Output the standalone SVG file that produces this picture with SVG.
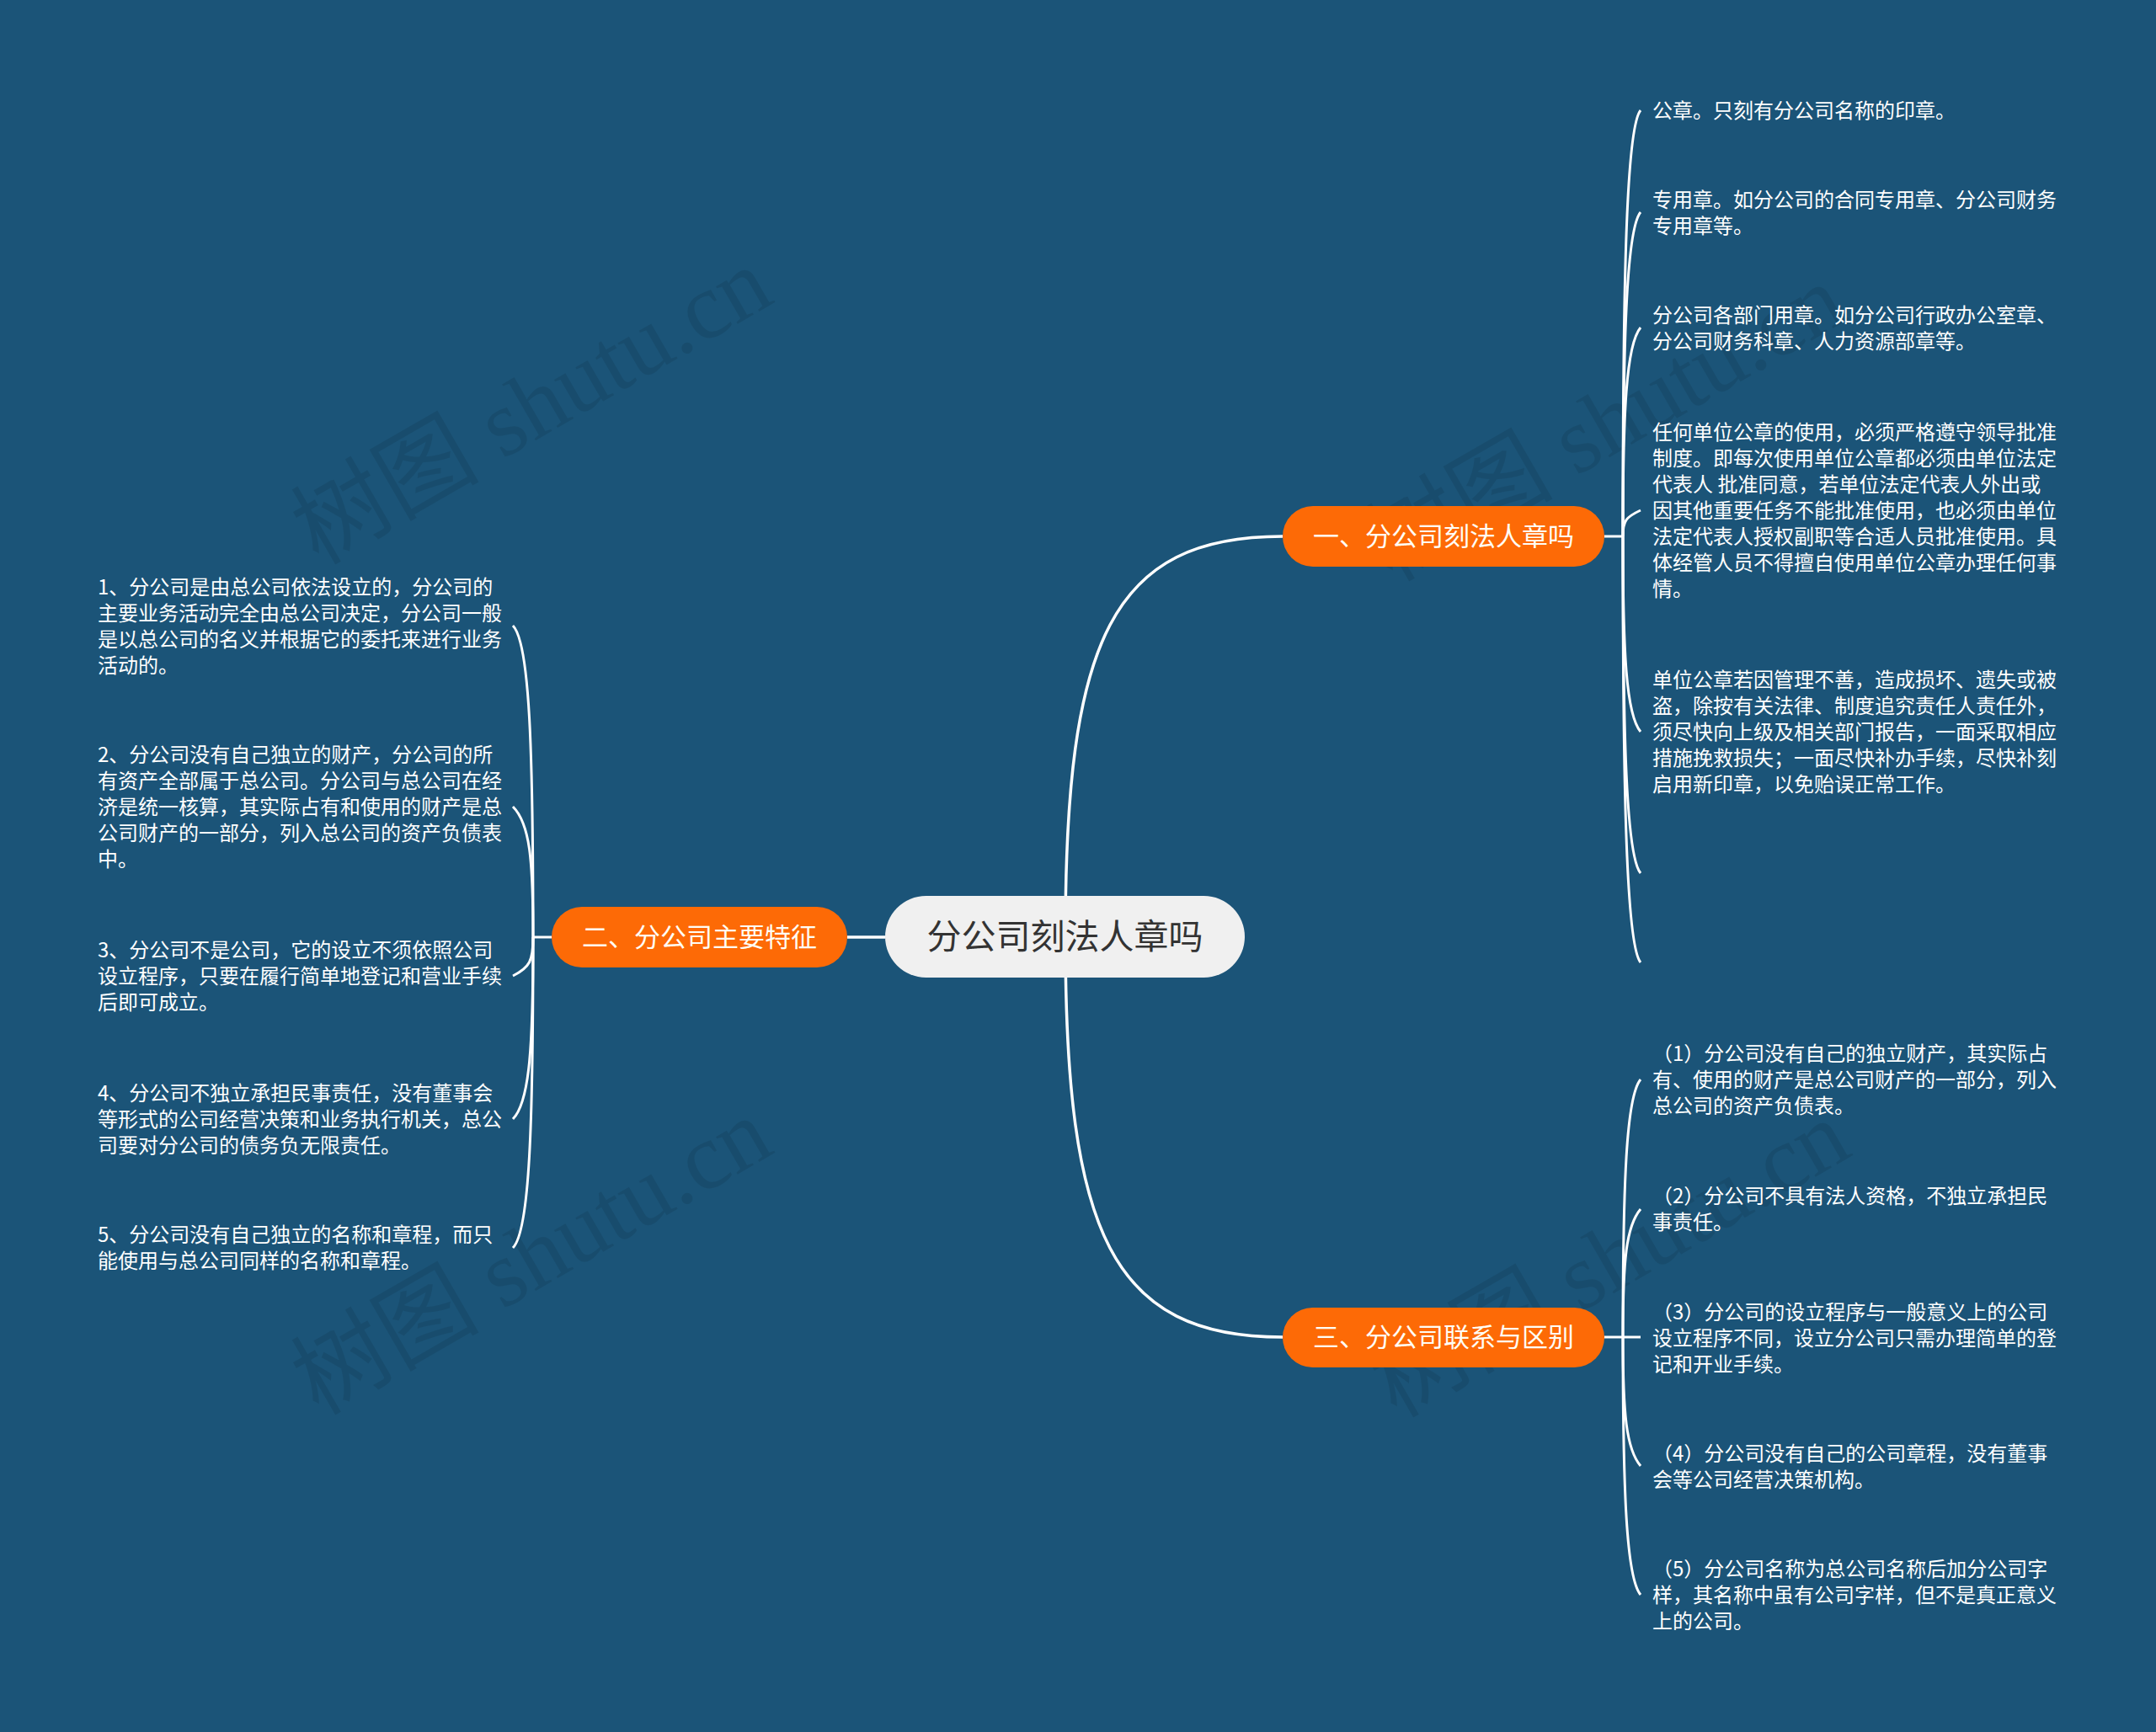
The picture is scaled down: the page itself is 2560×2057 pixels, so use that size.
<svg xmlns="http://www.w3.org/2000/svg" width="2560" height="2057" viewBox="0 0 2560 2057">
<style>
.bg{fill:#1b5478}
.wm{font-family:"Liberation Serif","Noto Sans CJK SC",serif;font-size:112px;fill:#000;fill-opacity:0.09}
.root-box{fill:#f0f0f0}
.root-txt{font-family:"Noto Sans CJK SC",sans-serif;font-size:41px;fill:#333333;text-anchor:middle}
.br-box{fill:#fd6a06}
.br-txt{font-family:"Noto Sans CJK SC",sans-serif;font-size:31px;fill:#fffdf5;text-anchor:middle}
.leaf{font-family:"Noto Sans CJK SC",sans-serif;font-size:24px;fill:#ffffff}
.main{fill:none;stroke:#ffffff;stroke-width:3.5}
.sub{fill:none;stroke:#ffffff;stroke-width:3}
</style>
<rect class="bg" x="0" y="0" width="2560" height="2057"/>
<g id="watermarks">
<text class="wm" transform="translate(650 515) rotate(-30)" text-anchor="middle">树图 shutu.cn</text>
<text class="wm" transform="translate(1925 535) rotate(-30)" text-anchor="middle">树图 shutu.cn</text>
<text class="wm" transform="translate(650 1525) rotate(-30)" text-anchor="middle">树图 shutu.cn</text>
<text class="wm" transform="translate(1930 1528) rotate(-30)" text-anchor="middle">树图 shutu.cn</text>
</g>
<g id="connectors">
<path class="main" d="M1265,1112 C1265,760 1320,637 1523,637"/>
<path class="main" d="M1265,1112 C1265,1464 1320,1588 1523,1588"/>
<path class="main" d="M1006,1113 L1051,1113"/>
<path class="sub" d="M1905,637 L1927,637"/>
<path class="sub" d="M1927,637 C1927,332 1931,151 1948,131"/>
<path class="sub" d="M1927,637 C1927,406 1931,272 1948,252"/>
<path class="sub" d="M1927,637 C1927,488 1931,409 1948,389"/>
<path class="sub" d="M1927,637 C1927,618 1931,614 1948,606"/>
<path class="sub" d="M1927,637 C1927,776 1931,849 1948,869"/>
<path class="sub" d="M1927,637 C1927,877 1931,1017 1948,1037"/>
<path class="sub" d="M1927,637 C1927,940 1931,1123 1948,1143"/>
<path class="sub" d="M1905,1588 L1948,1588"/>
<path class="sub" d="M1927,1588 C1927,1404 1931,1302 1948,1282"/>
<path class="sub" d="M1927,1588 C1927,1496 1931,1456 1948,1436"/>
<path class="sub" d="M1927,1588 C1927,1679 1931,1721 1948,1741"/>
<path class="sub" d="M1927,1588 C1927,1771 1931,1874 1948,1894"/>
<path class="sub" d="M655,1113 L633,1113"/>
<path class="sub" d="M633,1113 C633,891 629,763 609,743"/>
<path class="sub" d="M633,1113 C633,1020 629,978 609,958"/>
<path class="sub" d="M633,1113 C633,1141 629,1149 609,1159"/>
<path class="sub" d="M633,1113 C633,1242 629,1309 609,1329"/>
<path class="sub" d="M633,1113 C633,1335 629,1462 609,1482"/>
</g>
<g id="root">
<rect class="root-box" x="1051" y="1064" width="427" height="97" rx="48.5"/>
<text class="root-txt" x="1264.5" y="1127">分公司刻法人章吗</text>
</g>
<g id="branch1">
<rect class="br-box" x="1523" y="601" width="382" height="72" rx="36"/>
<text class="br-txt" x="1714" y="648">一、分公司刻法人章吗</text>
</g>
<g id="branch2">
<rect class="br-box" x="655" y="1077" width="351" height="72" rx="36"/>
<text class="br-txt" x="830.5" y="1124">二、分公司主要特征</text>
</g>
<g id="branch3">
<rect class="br-box" x="1523" y="1553" width="382" height="71" rx="35.5"/>
<text class="br-txt" x="1714" y="1599">三、分公司联系与区别</text>
</g>
<g id="b1-leaf1"><text class="leaf" x="1962" y="140">公章。只刻有分公司名称的印章。</text></g>
<g id="b1-leaf2"><text class="leaf"><tspan x="1962" y="246">专用章。如分公司的合同专用章、分公司财务</tspan><tspan x="1962" y="277">专用章等。</tspan></text></g>
<g id="b1-leaf3"><text class="leaf"><tspan x="1962" y="383">分公司各部门用章。如分公司行政办公室章、</tspan><tspan x="1962" y="414">分公司财务科章、人力资源部章等。</tspan></text></g>
<g id="b1-leaf4"><text class="leaf"><tspan x="1962" y="522">任何单位公章的使用，必须严格遵守领导批准</tspan><tspan x="1962" y="553">制度。即每次使用单位公章都必须由单位法定</tspan><tspan x="1962" y="584">代表人 批准同意，若单位法定代表人外出或</tspan><tspan x="1962" y="615">因其他重要任务不能批准使用，也必须由单位</tspan><tspan x="1962" y="646">法定代表人授权副职等合适人员批准使用。具</tspan><tspan x="1962" y="677">体经管人员不得擅自使用单位公章办理任何事</tspan><tspan x="1962" y="708">情。</tspan></text></g>
<g id="b1-leaf5"><text class="leaf"><tspan x="1962" y="816">单位公章若因管理不善，造成损坏、遗失或被</tspan><tspan x="1962" y="847">盗，除按有关法律、制度追究责任人责任外，</tspan><tspan x="1962" y="878">须尽快向上级及相关部门报告，一面采取相应</tspan><tspan x="1962" y="909">措施挽救损失；一面尽快补办手续，尽快补刻</tspan><tspan x="1962" y="940">启用新印章，以免贻误正常工作。</tspan></text></g>
<g id="b2-leaf1"><text class="leaf"><tspan x="116" y="706">1、分公司是由总公司依法设立的，分公司的</tspan><tspan x="116" y="737">主要业务活动完全由总公司决定，分公司一般</tspan><tspan x="116" y="768">是以总公司的名义并根据它的委托来进行业务</tspan><tspan x="116" y="799">活动的。</tspan></text></g>
<g id="b2-leaf2"><text class="leaf"><tspan x="116" y="905">2、分公司没有自己独立的财产，分公司的所</tspan><tspan x="116" y="936">有资产全部属于总公司。分公司与总公司在经</tspan><tspan x="116" y="967">济是统一核算，其实际占有和使用的财产是总</tspan><tspan x="116" y="998">公司财产的一部分，列入总公司的资产负债表</tspan><tspan x="116" y="1029">中。</tspan></text></g>
<g id="b2-leaf3"><text class="leaf"><tspan x="116" y="1137">3、分公司不是公司，它的设立不须依照公司</tspan><tspan x="116" y="1168">设立程序，只要在履行简单地登记和营业手续</tspan><tspan x="116" y="1199">后即可成立。</tspan></text></g>
<g id="b2-leaf4"><text class="leaf"><tspan x="116" y="1307">4、分公司不独立承担民事责任，没有董事会</tspan><tspan x="116" y="1338">等形式的公司经营决策和业务执行机关，总公</tspan><tspan x="116" y="1369">司要对分公司的债务负无限责任。</tspan></text></g>
<g id="b2-leaf5"><text class="leaf"><tspan x="116" y="1475">5、分公司没有自己独立的名称和章程，而只</tspan><tspan x="116" y="1506">能使用与总公司同样的名称和章程。</tspan></text></g>
<g id="b3-leaf1"><text class="leaf"><tspan x="1962" y="1260">（1）分公司没有自己的独立财产，其实际占</tspan><tspan x="1962" y="1291">有、使用的财产是总公司财产的一部分，列入</tspan><tspan x="1962" y="1322">总公司的资产负债表。</tspan></text></g>
<g id="b3-leaf2"><text class="leaf"><tspan x="1962" y="1429">（2）分公司不具有法人资格，不独立承担民</tspan><tspan x="1962" y="1460">事责任。</tspan></text></g>
<g id="b3-leaf3"><text class="leaf"><tspan x="1962" y="1567">（3）分公司的设立程序与一般意义上的公司</tspan><tspan x="1962" y="1598">设立程序不同，设立分公司只需办理简单的登</tspan><tspan x="1962" y="1629">记和开业手续。</tspan></text></g>
<g id="b3-leaf4"><text class="leaf"><tspan x="1962" y="1735">（4）分公司没有自己的公司章程，没有董事</tspan><tspan x="1962" y="1766">会等公司经营决策机构。</tspan></text></g>
<g id="b3-leaf5"><text class="leaf"><tspan x="1962" y="1872">（5）分公司名称为总公司名称后加分公司字</tspan><tspan x="1962" y="1903">样，其名称中虽有公司字样，但不是真正意义</tspan><tspan x="1962" y="1934">上的公司。</tspan></text></g>
</svg>
